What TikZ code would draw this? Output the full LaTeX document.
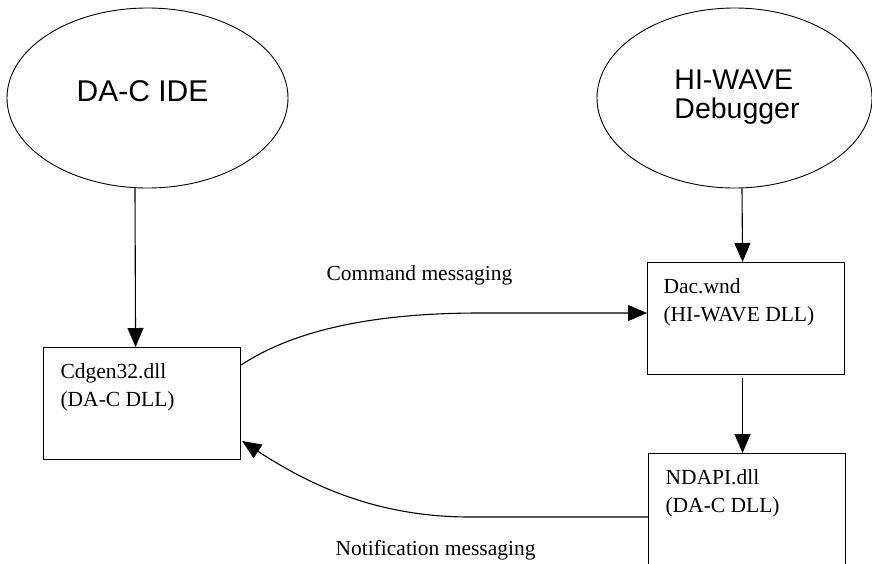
\documentclass[tikz,border=0pt]{standalone}
\usepackage{fontspec}
\setmainfont{Liberation Serif}
\newfontfamily\arialfont{Liberation Sans}
\usetikzlibrary{shapes.geometric,arrows.meta,calc}
\begin{document}
\begin{tikzpicture}[x=1pt,y=-1pt,
  line width=1.1pt,
  ell/.style={draw, ellipse, line width=0.9pt, inner sep=0pt},
  bigtxt/.style={font=\arialfont\fontsize{28.5}{29}\selectfont, inner sep=0pt, align=left},
  dllbox/.style={draw, rectangle, anchor=north west, inner sep=0pt, minimum width=197pt, minimum height=112pt},
  dlltxt/.style={font=\fontsize{21.5}{28}\selectfont, inner sep=0pt, align=left, anchor=north west},
  msg/.style={font=\fontsize{21.5}{25}\selectfont, inner sep=0pt, anchor=base west},
  arr/.style={-{Triangle[length=19pt,width=16pt]}, line width=1.1pt}
]
\clip (0,0) rectangle (872,563);
\fill[white] (0,0) rectangle (872,563);

% ellipses
\node[ell, minimum width=281pt, minimum height=180pt] (ide) at (147.5,98) {};
\node[bigtxt, font=\arialfont\fontsize{30}{30}\selectfont] (idetxt) at (142.5,91) {DA-C IDE};
\node[ell, minimum width=275pt, minimum height=180pt] (hiwave) at (734.5,98) {};
\node[bigtxt] (hiwavetxt) at (737,97) {HI-WAVE\\Debugger};

% boxes
\node[dllbox] (cdgen) at (43,347) {};
\node[dlltxt] (cdgentxt) at ($(cdgen.north west)+(17,16)$) {Cdgen32.dll\\(DA-C DLL)};
\node[dllbox] (dacwnd) at (647,262) {};
\node[dlltxt] (dacwndtxt) at ($(dacwnd.north west)+(16,16)$) {Dac.wnd\\(HI-WAVE DLL)};
\node[dllbox, minimum height=130pt] (ndapi) at (648,453) {};
\node[dlltxt] (ndapitxt) at ($(ndapi.north west)+(17,16)$) {NDAPI.dll\\(DA-C DLL)};

% vertical arrows
\draw[arr] ($(ide.south)+(-12.5,0)$) -- ($(cdgen.north)+(-6.5,0)$);
\draw[arr] ($(hiwave.south)+(7.5,0)$) -- ($(dacwnd.north)+(-3.5,0)$);
\draw[arr] ($(dacwnd.south)+(-3.5,3)$) -- ($(ndapi.north)+(-4.5,0)$);

% messaging curves
\draw[arr] ($(cdgen.north east)+(0,18)$)
  .. controls ($(cdgen.north east)+(56,-19)$) and ($(dacwnd.north west)+(-267,51)$)
  .. ($(dacwnd.north west)+(-167,51)$) -- ($(dacwnd.north west)+(0,51)$);
\draw[arr] ($(ndapi.north west)+(0,64)$) -- ($(ndapi.north west)+(-178,64)$)
  .. controls ($(ndapi.north west)+(-278,64)$) and ($(cdgen.north east)+(61,133)$)
  .. ($(cdgen.north east)+(1,94)$);

% labels
\node[msg] (cmd) at (326,280) {Command messaging};
\node[msg] (notif) at (335,555) {Notification messaging};
\end{tikzpicture}
\end{document}
